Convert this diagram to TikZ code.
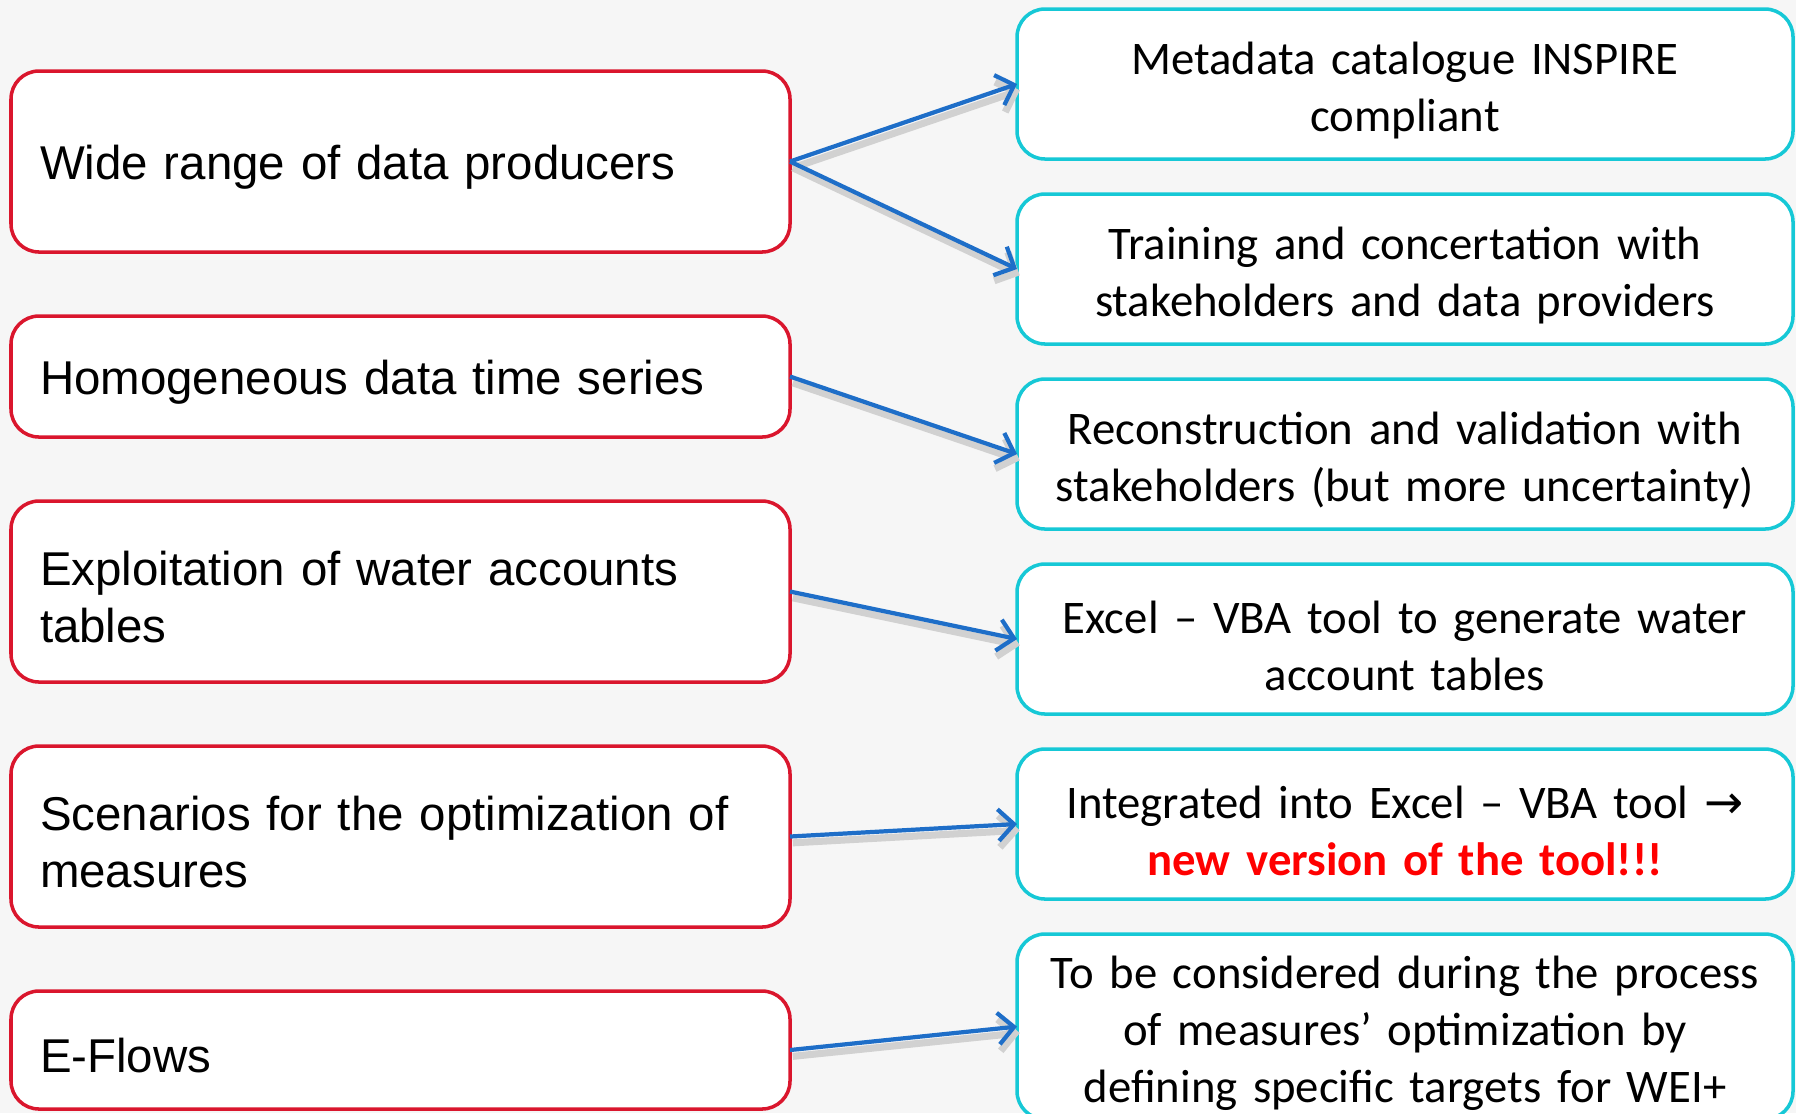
\documentclass[tikz,border=0pt]{standalone}
\usepackage{fontspec}
\setmainfont{Carlito}[WordSpace=0.8]
\newfontfamily\leftfont{Liberation Sans}
\newfontfamily\symfont{DejaVu Sans}
\usepackage{xcolor}
\usetikzlibrary{arrows.meta,positioning}
\definecolor{boxred}{RGB}{218,22,45}
\definecolor{boxcyan}{RGB}{22,200,214}
\definecolor{arrowblue}{RGB}{30,110,200}
\definecolor{bggray}{RGB}{246,246,246}
\definecolor{alertred}{RGB}{255,0,0}

\begin{document}
\begin{tikzpicture}[
    problem/.style={rectangle, draw=boxred, line width=1pt, fill=white, rounded corners=0.28cm, outer sep=0pt, text width=7.21cm, inner xsep=0.29cm, align=left, font=\leftfont\fontsize{13.5}{16.2}\selectfont, execute at begin node={\rule{0pt}{13pt}}},
    solution/.style={rectangle, draw=boxcyan, line width=1pt, fill=white, rounded corners=0.28cm, outer sep=0pt, text width=7.56cm, inner xsep=0.1cm, align=center, minimum height=1.5cm, font=\rmfamily\fontsize{13.3}{16.2}\selectfont, execute at begin node={\rule{0pt}{13pt}}},
    arrow/.style={-{Straight Barb[length=4.5pt,width=9pt]}, line width=1.2pt, arrowblue, preaction={draw, black!18, line width=2pt, transform canvas={shift={(0.8pt,-1.8pt)}}}}
]

% Background
\fill[bggray] (0,0) rectangle (17.96,-11.13);
\useasboundingbox (0,0) rectangle (17.96,-11.13);

% Issues
\node[problem, minimum height=1.81cm, anchor=north west] (producers) at (0.11,-0.71) {Wide range of data producers};
\node[problem, minimum height=1.21cm, below=0.64cm of producers] (series) {Homogeneous data time series};
\node[problem, minimum height=1.81cm, below=0.64cm of series] (accounts) {Exploitation of water accounts tables};
\node[problem, minimum height=1.81cm, below=0.64cm of accounts] (scenarios) {Scenarios for the optimization of measures};
\node[problem, minimum height=1.18cm, below=0.64cm of scenarios] (eflows) {E-Flows};

% Solutions
\node[solution, anchor=north west] (catalogue) at (10.17,-0.09) {Metadata catalogue INSPIRE\\compliant};
\node[solution, below=0.35cm of catalogue] (training) {Training and concertation with\\stakeholders and data providers};
\node[solution, below=0.35cm of training] (reconstruction) {Reconstruction and validation with\\stakeholders (but more uncertainty)};
\node[solution, below=0.35cm of reconstruction] (vbatool) {Excel -- VBA tool to generate water\\account tables};
\node[solution, below=0.35cm of vbatool] (integrated) {Integrated into Excel -- VBA tool {\symfont →}\\\textcolor{alertred}{\textbf{new version of the tool!!!}}};
\node[solution, inner ysep=2.5pt, below=0.35cm of integrated] (targets) {To be considered during the process\\of measures’ optimization by\\defining specific targets for WEI+};

% Connections
\draw[arrow] (producers.east) -- (catalogue.west);
\draw[arrow] (producers.east) -- (training.west);
\draw[arrow] (series.east) -- (reconstruction.west);
\draw[arrow] (accounts.east) -- (vbatool.west);
\draw[arrow] (scenarios.east) -- (integrated.west);
\draw[arrow] (eflows.east) -- (targets.west);

\end{tikzpicture}
\end{document}
